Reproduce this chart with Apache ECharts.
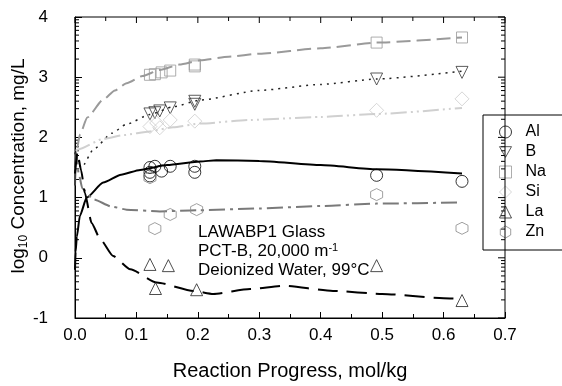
<!DOCTYPE html>
<html>
<head>
<meta charset="utf-8">
<script src="https://cdn.jsdelivr.net/npm/echarts@6/dist/echarts.min.js"></script>
<style>
  html, body { margin: 0; padding: 0; background: #fff; }
  #chart { width: 562px; height: 386px; }
</style>
</head>
<body>
<div id="chart"></div>
<script>
// measured points (x = reaction progress, y = log10 conc)
const alX = [0.122, 0.122, 0.122, 0.130, 0.141, 0.155, 0.195, 0.195, 0.491, 0.630];
const alY = [1.50, 1.42, 1.36, 1.52, 1.44, 1.52, 1.52, 1.42, 1.37, 1.27];
const bX = [0.122, 0.130, 0.138, 0.155, 0.195, 0.195, 0.491, 0.630];
const bY = [2.39, 2.41, 2.44, 2.49, 2.60, 2.55, 2.97, 3.08];
const naX = [0.122, 0.130, 0.141, 0.155, 0.195, 0.195, 0.491, 0.630];
const naY = [3.04, 3.05, 3.08, 3.11, 3.21, 3.18, 3.575, 3.66];
const siX = [0.122, 0.133, 0.138, 0.155, 0.195, 0.491, 0.630];
const siY = [2.18, 2.24, 2.16, 2.29, 2.27, 2.45, 2.64];
const laX = [0.122, 0.152, 0.131, 0.198, 0.491, 0.630];
const laY = [-0.11, -0.13, -0.51, -0.53, -0.13, -0.71];
const znX = [0.122, 0.130, 0.155, 0.198, 0.491, 0.630];
const znY = [1.33, 0.485, 0.72, 0.80, 1.05, 0.49];

// model curves [x, y]
const alModel = [[0, -0.2], [0.001, 0.1], [0.003, 0.35], [0.008, 0.7], [0.019, 1.0], [0.046, 1.25], [0.075, 1.38], [0.106, 1.46], [0.15, 1.54], [0.204, 1.60], [0.23, 1.62], [0.3, 1.61], [0.4, 1.54], [0.491, 1.47], [0.63, 1.40]];
const bModel = [[0, 1.75], [0.005, 1.55], [0.011, 1.5], [0.03, 1.80], [0.06, 2.07], [0.084, 2.22], [0.122, 2.38], [0.16, 2.51], [0.204, 2.62], [0.3, 2.78], [0.4, 2.88], [0.491, 2.97], [0.63, 3.10]];
const naModel = [[0, 1.5], [0.003, 1.8], [0.008, 2.05], [0.02, 2.33], [0.046, 2.63], [0.065, 2.78], [0.084, 2.90], [0.11, 3.02], [0.138, 3.12], [0.17, 3.21], [0.204, 3.28], [0.25, 3.34], [0.3, 3.39], [0.4, 3.48], [0.491, 3.575], [0.63, 3.66]];
const siModel = [[0, 1.78], [0.005, 1.80], [0.046, 1.975], [0.08, 2.04], [0.122, 2.10], [0.16, 2.17], [0.204, 2.23], [0.285, 2.29], [0.4, 2.34], [0.491, 2.39], [0.63, 2.49]];
const znModel = [[0, 1.2], [0.002, 1.75], [0.006, 1.4], [0.012, 1.15], [0.03, 0.97], [0.06, 0.85], [0.084, 0.80], [0.138, 0.77], [0.2, 0.79], [0.3, 0.82], [0.4, 0.86], [0.491, 0.90], [0.63, 0.92]];
const laModel = [[0, 1.4], [0.004, 1.75], [0.01, 1.45], [0.016, 1.08], [0.027, 0.58], [0.041, 0.31], [0.062, 0.03], [0.09, -0.19], [0.133, -0.41], [0.193, -0.55], [0.225, -0.60], [0.285, -0.52], [0.339, -0.465], [0.42, -0.55], [0.5, -0.60], [0.6, -0.67], [0.63, -0.68]];

const xTicks = ['0.0', '0.1', '0.2', '0.3', '0.4', '0.5', '0.6', '0.7'];
const yTicks = ['-1', '0', '1', '2', '3', '4'];
const legendNames = ['Al', 'B', 'Na', 'Si', 'La', 'Zn'];

const font = 'Liberation Sans, Arial, sans-serif';
const hexagon = 'path://M0,-10 L8.66,-5 L8.66,5 L0,10 L-8.66,5 L-8.66,-5 Z';
const downTri = 'path://M-9,-7 L9,-7 L0,9 Z';

// log-style minor ticks on the y axes
const yMinor = [];
for (let k = -1; k < 4; k++) {
  for (let m = 2; m <= 9; m++) yMinor.push(k + Math.log10(m));
}

function zip(xs, ys) { return xs.map((x, i) => [x, ys[i]]); }

function pts(name, xs, ys, symbol, color, size) {
  return {
    name: name, type: 'scatter', data: zip(xs, ys),
    symbol: symbol, symbolSize: size,
    itemStyle: { color: 'rgba(255,255,255,0)', borderColor: color, borderWidth: 1 },
    z: 5
  };
}

function model(name, data, color, width, dash) {
  return {
    name: name, type: 'line', data: data, showSymbol: false,
    smooth: 0.2, smoothMonotone: 'x',
    lineStyle: { color: color, width: width, type: dash },
    silent: true, z: 3
  };
}

function seg(x1, y1, x2, y2) {
  return { type: 'line', shape: { x1: x1, y1: y1, x2: x2, y2: y2 }, style: { stroke: '#000', lineWidth: 1 } };
}

const tickStyle = { color: '#000', width: 1 };

const texts = [{
  type: 'text', x: 19, y: 166, rotation: Math.PI / 2,
  style: {
    text: '{a|log}{sub|10}{a| Concentration, mg/L}',
    align: 'center', verticalAlign: 'middle', fill: '#000',
    rich: {
      a: { fontSize: 19, fontFamily: font, fill: '#000', lineHeight: 22 },
      sub: { fontSize: 12, fontFamily: font, fill: '#000', verticalAlign: 'bottom' }
    }
  }
}, {
  type: 'text', left: 198, top: 224,
  style: {
    text: '{a|LAWABP1 Glass}\n{a|PCT-B, 20,000 m}{sup|-1}\n{a|Deionized Water, 99°C}',
    fill: '#000',
    rich: {
      a: { fontSize: 17, fontFamily: font, fill: '#000', lineHeight: 19 },
      sup: { fontSize: 11, fontFamily: font, fill: '#000', verticalAlign: 'top' }
    }
  }
}];

const chart = echarts.init(document.getElementById('chart'));
chart.setOption({
  animation: false,
  textStyle: { fontFamily: font },
  grid: { left: 75, right: 57, top: 17, bottom: 67 },
  legend: {
    orient: 'vertical', left: 483, top: 115,
    data: legendNames,
    borderColor: '#000', borderWidth: 1,
    padding: [9, 60, 10, 16], itemGap: 4, itemWidth: 12, itemHeight: 12,
    itemStyle: { borderWidth: 1 },
    textStyle: { fontSize: 16, color: '#000', fontFamily: font, padding: [0, 0, 0, 9] }
  },
  xAxis: {
    type: 'value', min: 0, max: 0.7, interval: 0.1,
    name: 'Reaction Progress, mol/kg', nameLocation: 'middle', nameGap: 43,
    nameTextStyle: { fontSize: 20, color: '#000' },
    axisLine: { show: true, onZero: false, lineStyle: tickStyle },
    axisTick: { show: true, inside: true, length: 6, lineStyle: tickStyle },
    minorTick: { show: true, splitNumber: 2, length: 4, lineStyle: tickStyle },
    axisLabel: { fontSize: 17, color: '#000', margin: 9, formatter: v => xTicks[Math.round(v * 10)] },
    splitLine: { show: false }
  },
  yAxis: {
    type: 'value', min: -1, max: 4, interval: 1,
    axisLine: { show: true, onZero: false, lineStyle: tickStyle },
    axisTick: { show: true, inside: true, length: 7, lineStyle: tickStyle },
    axisLabel: { fontSize: 17, color: '#000', margin: 27, formatter: v => yTicks[Math.round(v) + 1] },
    splitLine: { show: false }
  },
  graphic: texts,
  series: [
    model('Na-model', naModel, '#9a9a9a', 2, [14, 6]),
    model('B-model', bModel, '#222', 1.5, [2, 5]),
    model('Si-model', siModel, '#d0d0d0', 2, [16, 4, 2, 4, 2, 4]),
    model('Al-model', alModel, '#000', 2, 'solid'),
    model('Zn-model', znModel, '#7a7a7a', 2, [16, 5, 3, 5]),
    model('La-model', laModel, '#000', 2, [20, 9]),
    pts('Al', alX, alY, 'circle', '#000', 12),
    pts('B', bX, bY, downTri, '#333', 12),
    pts('Na', naX, naY, 'rect', '#999', 11),
    pts('Si', siX, siY, 'diamond', '#ccc', 14),
    pts('La', laX, laY, 'triangle', '#222', 12),
    pts('Zn', znX, znY, hexagon, '#888', 12),
    {
      name: 'ticks', type: 'custom', silent: true, z: 2,
      data: yMinor.map(v => [0, v]),
      renderItem: function (params, api) {
        const l = api.coord([0, api.value(1)]);
        const r = api.coord([0.7, api.value(1)]);
        return { type: 'group', children: [seg(l[0], l[1], l[0] + 4, l[1]), seg(r[0] - 4, r[1], r[0], r[1])] };
      }
    }
  ]
});

// closing frame: top and right edges with their ticks, placed through the axes
const tl = chart.convertToPixel({ gridIndex: 0 }, [0, 4]);
const br = chart.convertToPixel({ gridIndex: 0 }, [0.7, -1]);
const frame = [{
  type: 'rect', silent: true, z: 10,
  shape: { x: tl[0], y: tl[1], width: br[0] - tl[0], height: br[1] - tl[1] },
  style: { fill: 'none', stroke: '#000', lineWidth: 1 }
}];
for (let i = 0; i <= 14; i++) {
  const p = chart.convertToPixel({ gridIndex: 0 }, [i * 0.05, 4]);
  frame.push(Object.assign(seg(p[0], p[1], p[0], p[1] + (i % 2 ? 4 : 6)), { silent: true, z: 10 }));
}
for (let k = -1; k <= 4; k++) {
  const p = chart.convertToPixel({ gridIndex: 0 }, [0.7, k]);
  frame.push(Object.assign(seg(p[0] - 7, p[1], p[0], p[1]), { silent: true, z: 10 }));
}
chart.setOption({ graphic: texts.concat(frame) });
</script>
</body>
</html>
